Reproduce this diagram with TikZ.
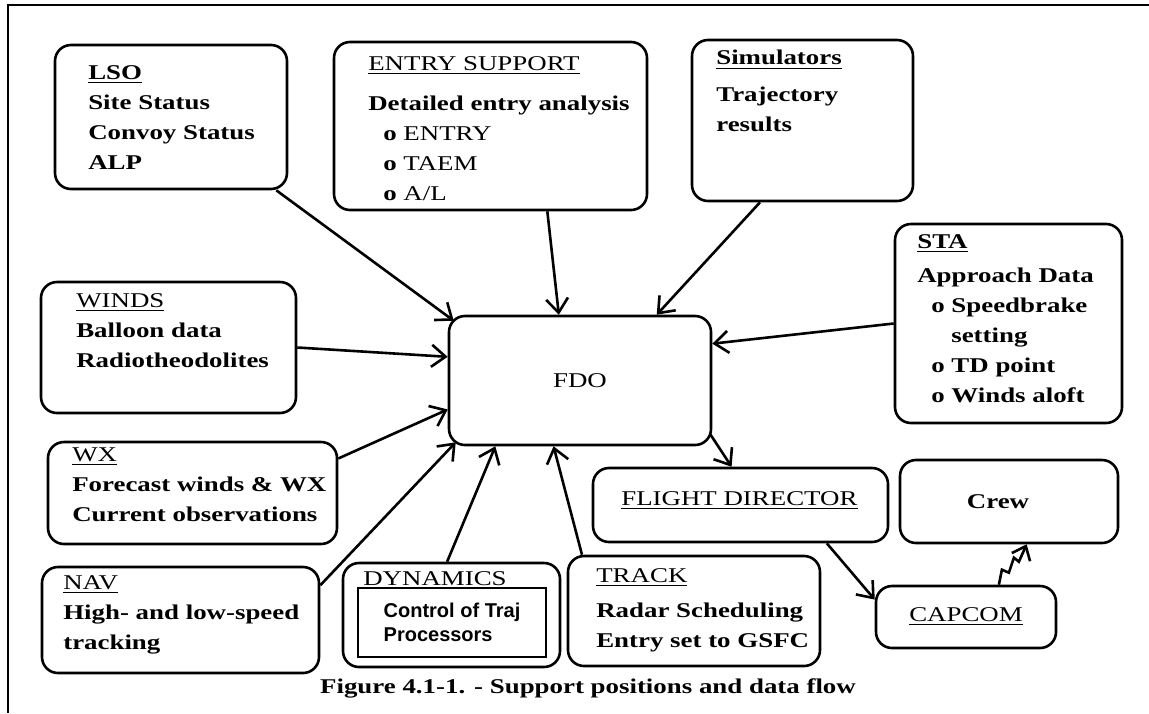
\documentclass[tikz,border=0pt]{standalone}
\usepackage{fontspec}
\setmainfont{Liberation Serif}[FakeStretch=1.28]
\newfontfamily\sansf{Liberation Sans}
\usetikzlibrary{arrows.meta,calc}

\tikzset{
  box/.style={draw,rounded corners=8pt,inner sep=0pt},
  txt/.style={anchor=north west,align=left,inner sep=0pt,
    font=\fontsize{10.5}{15}\selectfont\bfseries},
}

\begin{document}
\begin{tikzpicture}[x=0.5pt,y=-0.5pt,line width=1.3pt,
  -{Straight Barb[length=7pt,width=11pt]}]
\useasboundingbox (0,0) rectangle (1149,713);
\draw[-] (1149,5) -- (8,5) -- (8,713);

% boxes
\node[box,minimum width=116pt,minimum height=72pt] (LSO) at (171,117) {};
\node[box,minimum width=156.5pt,minimum height=84pt] (ES) at (490.5,126) {};
\node[box,minimum width=110.5pt,minimum height=80.5pt] (SIM) at (802.5,120.5) {};
\node[box,minimum width=113.5pt,minimum height=99.5pt] (STA) at (1008.5,323.5) {};
\node[box,minimum width=127.5pt,minimum height=65.5pt] (WIN) at (168.5,347.5) {};
\node[box,minimum width=144.5pt,minimum height=51pt] (WX) at (192.5,493) {};
\node[box,minimum width=138.5pt,minimum height=53pt] (NAV) at (180.5,620) {};
\node[box,minimum width=108.5pt,minimum height=52pt] (DYN) at (451.5,615) {};
\node[box,minimum width=126pt,minimum height=55pt] (TRK) at (694,611) {};
\node[box,minimum width=147.5pt,minimum height=37pt] (FD) at (740.5,505) {};
\node[box,minimum width=109pt,minimum height=41.5pt] (CREW) at (1009,501.5) {};
\node[box,minimum width=90pt,minimum height=31pt,
  font=\fontsize{10.5}{15}\selectfont] (CAP) at (966,617) {\underline{CAPCOM}};
\node[box,minimum width=131pt,minimum height=64.5pt,
  font=\fontsize{10.5}{15}\selectfont] (FDO) at (580,380.5) {FDO};
\node[draw,align=left,minimum width=94pt,minimum height=34.5pt,
  font=\sansf\fontsize{10}{12}\selectfont\bfseries] (CTP) at (452,622.5)
  {Control of Traj\\Processors};

% texts
\node[txt] (LSOt) at (87,64) {\underline{LSO}\\Site Status\\Convoy Status\\ALP};
\node[txt] (ESt) at (367,55) {\underline{\textmd{ENTRY SUPPORT}}\\[5pt]
  Detailed entry analysis\\
  \hspace*{7.5pt}o \textmd{ENTRY}\\
  \hspace*{7.5pt}o \textmd{TAEM}\\
  \hspace*{7.5pt}o \textmd{A/L}};
\node[txt] (SIMt) at (715,49) {\underline{Simulators}\\[3.5pt]Trajectory\\results};
\node[txt] (STAt) at (916,233) {\underline{STA}\\[2pt]Approach Data\\
  \hspace*{7pt}o Speedbrake\\
  \hspace*{17pt}setting\\
  \hspace*{7pt}o TD point\\
  \hspace*{7pt}o Winds aloft};
\node[txt] (WINt) at (75,292) {\underline{\textmd{WINDS}}\\Balloon data\\Radiotheodolites};
\node[txt] (WXt) at (71,446) {\underline{\textmd{WX}}\\Forecast winds \& WX\\Current observations};
\node[txt] (NAVt) at (62,574) {\underline{\textmd{NAV}}\\High- and low-speed\\tracking};
\node[txt] (DYNt) at (362,570) {\underline{\textmd{DYNAMICS}}};
\node[txt] (TRKt) at (595,567) {\underline{\textmd{TRACK}}\\[2.5pt]Radar Scheduling\\Entry set to GSFC};
\node[txt] (FDt) at (620,490) {\underline{\textmd{FLIGHT DIRECTOR}}};
\node[txt,anchor=center] (CREWt) at (998,502) {Crew};
\node[txt,anchor=center] (CAPt) at (588,688) {Figure 4.1-1. - Support positions and data flow};

% flows into FDO
\path ([xshift=-6pt]LSO.south east) edge ([shift={(3pt,-3pt)}]FDO.north west);
\path ($(ES.south west)!0.68!(ES.south east)$) edge ($(FDO.north west)!0.42!(FDO.north east)$);
\path ($(SIM.south west)!0.31!(SIM.south east)$) edge ($(FDO.north west)!0.79!(FDO.north east)$);
\path (STA.west) edge ($(FDO.north east)!0.22!(FDO.south east)$);
\path (WIN.east) edge ($(FDO.north west)!0.32!(FDO.south west)$);
\path ($(WX.north east)!0.17!(WX.south east)$) edge ($(FDO.north west)!0.72!(FDO.south west)$);
\path ($(NAV.north east)!0.18!(NAV.south east)$) edge ([shift={(4pt,2pt)}]FDO.south west);
\path ($(DYN.north west)!0.48!(DYN.north east)$) edge ($(FDO.south west)!0.18!(FDO.south east)$);
\path ($(TRK.north west)!0.06!(TRK.north east)$) edge ($(FDO.south west)!0.40!(FDO.south east)$);

% flows out
\path ([shift={(-1pt,6pt)}]FDO.south east) edge ($(FD.north west)!0.47!(FD.north east)$);
\path ($(FD.south west)!0.79!(FD.south east)$) edge ($(CAP.north west)!0.23!(CAP.south west)$);
\draw[-{Straight Barb[length=6pt,width=10pt]}] ($(CAP.north west)!0.68!(CAP.north east)$)
  -- ++(3,-15) -- ++(7,3) -- ++(5,-15) -- ++(5,4)
  -- ($(CREW.south west)!0.58!(CREW.south east)$);

\end{tikzpicture}
\end{document}
